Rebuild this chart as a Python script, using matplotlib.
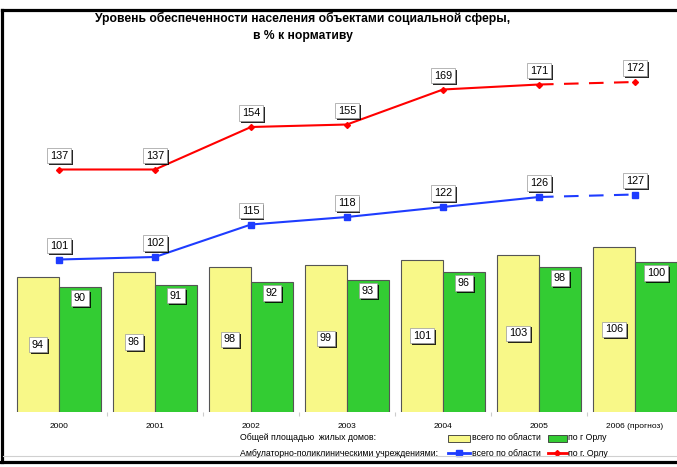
import matplotlib
matplotlib.use("Agg")
import matplotlib.pyplot as plt
import matplotlib.patheffects as pe
from matplotlib.lines import Line2D
from matplotlib.patches import Rectangle
import numpy as np

plt.rcParams['font.family'] = ['Liberation Sans', 'DejaVu Sans']

years = ['2000', '2001', '2002', '2003', '2004', '2005', '2006 (прогноз)']
housing_region = [94, 96, 98, 99, 101, 103, 106]
housing_orel = [90, 91, 92, 93, 96, 98, 100]
clinic_region = [101, 102, 115, 118, 122, 126, 127]
clinic_orel = [137, 137, 154, 155, 169, 171, 172]

title = "Уровень обеспеченности населения объектами социальной сферы,\nв % к нормативу"
leg_row1 = "Общей площадью  жилых домов:"
leg_row2 = "Амбулаторно-поликлиническими учреждениями:"
leg_region = "всего по области"
leg_orel1 = "по г Орлу"
leg_orel2 = "по г. Орлу"

YELLOW = '#F8F888'
GREEN = '#33CC33'
BLUE = '#1E3CFF'
RED = '#FF0000'

W, H = 677, 467
fig = plt.figure(figsize=(W / 100, H / 100), dpi=100)
ax = fig.add_axes([11 / W, (H - 412) / H, 672 / W, 362.5 / H])
ax.set_xlim(-0.5, 6.5)
ax.set_ylim(40, 185)
for s in ax.spines.values():
    s.set_visible(False)
ax.set_yticks([])

x = np.arange(len(years))
bw = 0.4375
ax.bar(x - bw / 2, housing_region, width=bw, bottom=0, color=YELLOW, edgecolor='#555555', linewidth=0.8, zorder=2)
ax.bar(x + bw / 2, housing_orel, width=bw, bottom=0, color=GREEN, edgecolor='#555555', linewidth=0.8, zorder=2)

# lines: solid up to 2005, dashed to 2006
ax.plot(x[:-1], clinic_region[:-1], color=BLUE, lw=1.5, marker='s', ms=4.5, zorder=4)
ax.plot(x[-2:], clinic_region[-2:], color=BLUE, lw=1.5, ls=(0, (7, 5)), zorder=4)
ax.plot(x[-1:], clinic_region[-1:], color=BLUE, marker='s', ms=4.5, ls='none', zorder=4)
ax.plot(x[:-1], clinic_orel[:-1], color=RED, lw=1.5, marker='D', ms=3, zorder=4)
ax.plot(x[-2:], clinic_orel[-2:], color=RED, lw=1.5, ls=(0, (7, 5)), zorder=4)
ax.plot(x[-1:], clinic_orel[-1:], color=RED, marker='D', ms=3, ls='none', zorder=4)

shadow = [pe.SimplePatchShadow(offset=(1.3, -1.3), shadow_rgbFace='black', alpha=0.85), pe.Normal()]

def label(xv, yv, txt, dy):
    t = ax.annotate(txt, (xv, yv), xytext=(0, dy), textcoords='offset points',
                    ha='center', va='center', fontsize=7.8, zorder=6,
                    bbox=dict(boxstyle='square,pad=0.25', fc='white', ec='#999999', lw=0.5))
    t.get_bbox_patch().set_path_effects(shadow)

for i in range(len(years)):
    label(x[i] - bw / 2, 40 + (housing_region[i] - 40) / 2, str(housing_region[i]), 0)
    label(x[i] + bw / 2, housing_orel[i], str(housing_orel[i]), -8)
    label(x[i], clinic_region[i], str(clinic_region[i]), 10)
    label(x[i], clinic_orel[i], str(clinic_orel[i]), 10)

ax.set_xticks(x)
ax.set_xticklabels(years, fontsize=6)
ax.tick_params(axis='x', length=0, pad=8)
ax.set_xticks(x[:-1] + 0.5, minor=True)
ax.tick_params(axis='x', which='minor', length=3, color='#cccccc', width=0.8)

# title
fig.text(303 / W, 1 - 27 / H, title, ha='center', va='center', fontsize=8.7,
         fontweight='bold', linespacing=1.5)

# legend (manual)
fs = 6.3
fig.text(240 / W, 1 - 438 / H, leg_row1, fontsize=fs, va='center')
fig.text(240 / W, 1 - 453 / H, leg_row2, fontsize=fs, va='center')
fig.add_artist(Rectangle((448 / W, 1 - 442 / H), 22 / W, 7 / H, transform=fig.transFigure,
                         fc=YELLOW, ec='#333333', lw=0.6))
fig.add_artist(Rectangle((548 / W, 1 - 442 / H), 19 / W, 7 / H, transform=fig.transFigure,
                         fc=GREEN, ec='#333333', lw=0.6))
fig.add_artist(Line2D([448 / W, 470 / W], [1 - 453 / H] * 2, transform=fig.transFigure,
                      color=BLUE, lw=2))
fig.add_artist(Line2D([459 / W], [1 - 453 / H], transform=fig.transFigure,
                      color=BLUE, marker='s', ms=4))
fig.add_artist(Line2D([548 / W, 567 / W], [1 - 453 / H] * 2, transform=fig.transFigure,
                      color=RED, lw=2))
fig.add_artist(Line2D([557 / W], [1 - 453 / H], transform=fig.transFigure,
                      color=RED, marker='D', ms=3))
fig.text(472 / W, 1 - 438 / H, leg_region, fontsize=fs, va='center')
fig.text(568 / W, 1 - 438 / H, leg_orel1, fontsize=fs, va='center')
fig.text(472 / W, 1 - 453 / H, leg_region, fontsize=fs, va='center')
fig.text(568 / W, 1 - 453 / H, leg_orel2, fontsize=fs, va='center')

# outer frame
fig.add_artist(Line2D([2 / W, 1.0], [1 - 10 / H] * 2, transform=fig.transFigure, color='black', lw=2.3))
fig.add_artist(Line2D([2 / W, 2 / W], [1 - 10 / H, 1 - 462 / H], transform=fig.transFigure, color='black', lw=2.3))
fig.add_artist(Line2D([0, 1.0], [1 - 462 / H] * 2, transform=fig.transFigure, color='black', lw=2.3))
fig.add_artist(Line2D([3 / W, 1.0], [1 - 456 / H] * 2, transform=fig.transFigure, color='#d0d0d0', lw=0.8))

fig.savefig('out.png', dpi=100)
